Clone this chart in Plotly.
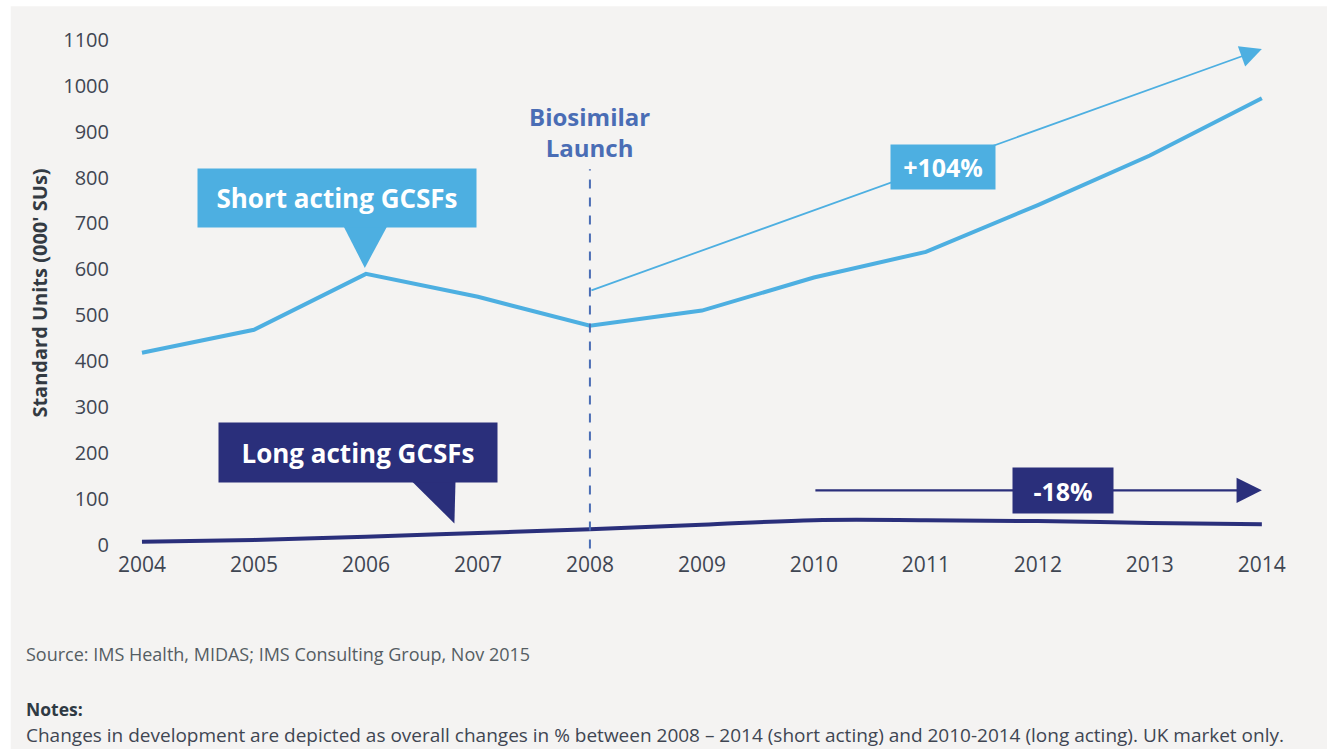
import plotly.graph_objects as go

# UK GCSF volumes, thousand standard units
years = [2004, 2005, 2006, 2007, 2008, 2009, 2010, 2011, 2012, 2013, 2014]
short_acting = [418, 468, 590, 540, 477, 510, 582, 638, 740, 848, 973]
long_acting = [6, 10, 17, 25, 33, 43, 53, 53, 51, 47, 44]

y_ticks = [0, 100, 200, 300, 400, 500, 600, 700, 800, 900, 1000, 1100]
launch_year = 2008
short_change = "+104%"
long_change = "-18%"

LIGHT = "#4dafe1"
NAVY = "#2a2f7b"
LAUNCH = "#4a6db5"
PANEL = "#f4f3f2"
TICK = "#3f4652"
FONT = "Open Sans"

fig = go.Figure()

fig.add_trace(go.Scatter(
    x=years, y=short_acting, mode="lines",
    line=dict(color=LIGHT, width=4), hoverinfo="skip"))
fig.add_trace(go.Scatter(
    x=years, y=long_acting, mode="lines", line_shape="spline",
    line=dict(color=NAVY, width=4), hoverinfo="skip"))

shapes = []
# light grey panel behind everything
shapes.append(dict(type="rect", xref="paper", yref="paper", layer="below",
                   x0=-0.09, x1=1.02, y0=-0.50, y1=1.02,
                   fillcolor=PANEL, line_width=0))
# biosimilar launch marker
shapes.append(dict(type="line", xref="x", yref="y", x0=launch_year, x1=launch_year,
                   y0=-9, y1=818, line=dict(color=LAUNCH, width=2, dash="dash")))
# callout pointers
shapes.append(dict(type="path", xref="x", yref="y",
                   path="M 2005.80 694 L 2006.19 694 L 2005.99 603 Z",
                   fillcolor=LIGHT, line_width=0))
shapes.append(dict(type="path", xref="x", yref="y",
                   path="M 2006.40 140 L 2006.80 140 L 2006.79 46 Z",
                   fillcolor=NAVY, line_width=0))

annotations = []
# trend arrows
annotations.append(dict(x=2014.0, y=1080, ax=launch_year, ay=553,
                        xref="x", yref="y", axref="x", ayref="y",
                        text="", showarrow=True, arrowhead=2, arrowsize=2.4,
                        arrowwidth=1.8, arrowcolor=LIGHT, standoff=0))
annotations.append(dict(x=2014.0, y=118, ax=2010, ay=118,
                        xref="x", yref="y", axref="x", ayref="y",
                        text="", showarrow=True, arrowhead=2, arrowsize=2.3,
                        arrowwidth=2.2, arrowcolor=NAVY, standoff=0))
# change labels
annotations.append(dict(x=2011.15, y=824, xref="x", yref="y", showarrow=False,
                        text="<b>%s</b>" % short_change, bgcolor=LIGHT,
                        width=102, height=42, font=dict(family=FONT, size=25, color="white")))
annotations.append(dict(x=2012.22, y=118, xref="x", yref="y", showarrow=False,
                        text="<b>%s</b>" % long_change, bgcolor=NAVY,
                        width=98, height=43, font=dict(family=FONT, size=25, color="white")))
# series callouts
annotations.append(dict(x=2005.74, y=755, xref="x", yref="y", showarrow=False,
                        text="<b>Short acting GCSFs</b>", bgcolor=LIGHT,
                        width=276, height=56, font=dict(family=FONT, size=26, color="white")))
annotations.append(dict(x=2005.93, y=200, xref="x", yref="y", showarrow=False,
                        text="<b>Long acting GCSFs</b>", bgcolor=NAVY,
                        width=276, height=57, font=dict(family=FONT, size=26, color="white")))
# launch label
annotations.append(dict(x=launch_year, y=899, xref="x", yref="y", showarrow=False,
                        text="<b>Biosimilar<br>Launch</b>",
                        font=dict(family=FONT, size=24, color=LAUNCH)))
# y-axis title
annotations.append(dict(x=-0.079, y=0.4817, xref="paper", yref="paper", showarrow=False,
                        textangle=-90, text="<b>Standard Units (000' SUs)</b>",
                        font=dict(family=FONT, size=20, color="#333a42")))
# footer
annotations.append(dict(x=-0.0789, y=-0.196, xref="paper", yref="paper", xanchor="left",
                        yanchor="middle", showarrow=False,
                        text="Source: IMS Health, MIDAS; IMS Consulting Group, Nov 2015",
                        font=dict(family=FONT, size=18, color="#555d63")))
annotations.append(dict(x=-0.0789, y=-0.2976, xref="paper", yref="paper", xanchor="left",
                        yanchor="middle", showarrow=False, text="<b>Notes:</b>",
                        font=dict(family=FONT, size=17.5, color="#2f3a44")))
annotations.append(dict(x=-0.0789, y=-0.3465, xref="paper", yref="paper", xanchor="left",
                        yanchor="middle", showarrow=False,
                        text="Changes in development are depicted as overall changes in % between "
                             "2008 \u2013 2014 (short acting) and 2010-2014 (long acting). UK market only.",
                        font=dict(family=FONT, size=19, color=TICK)))

fig.update_layout(
    width=1327, height=749,
    margin=dict(l=118, r=17, t=17, b=199),
    paper_bgcolor="white", plot_bgcolor=PANEL,
    showlegend=False,
    shapes=shapes, annotations=annotations,
    font=dict(family=FONT, color=TICK),
    xaxis=dict(range=[2003.786, 2014.43], tickmode="array", tickvals=years,
               ticktext=[str(y) for y in years], showgrid=False, zeroline=False,
               showline=False, ticks="", tickfont=dict(family=FONT, size=21, color=TICK)),
    yaxis=dict(range=[-12, 1150], tickmode="array", tickvals=y_ticks,
               showgrid=False, zeroline=False, showline=False, ticks="",
               ticklabelstandoff=8,
               tickfont=dict(family=FONT, size=20, color=TICK)),
)

fig.write_html("out.html")
